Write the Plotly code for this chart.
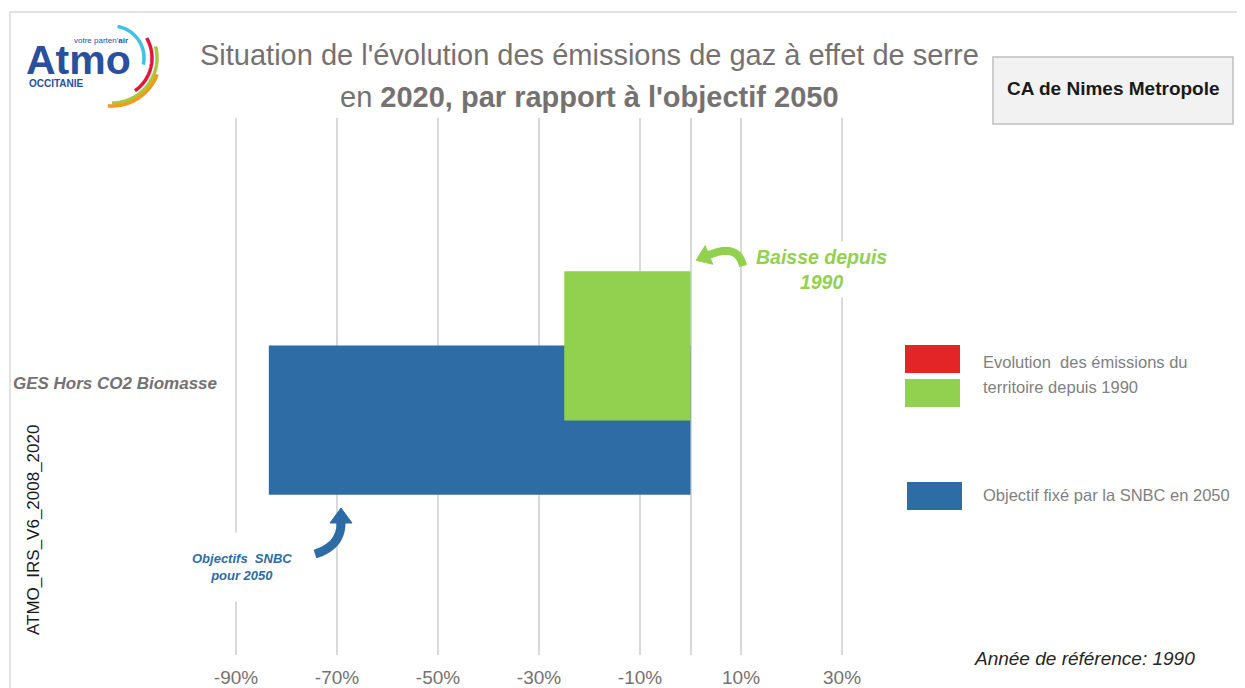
import math
import plotly.graph_objects as go

# données (part de l'évolution par rapport à 1990)
categories = ["GES Hors CO2 Biomasse"]
evolution_1990 = [-0.25]
objectif_snbc_2050 = [-0.835]
x_ticks = [-0.9, -0.7, -0.5, -0.3, -0.1, 0.1, 0.3]
x_tick_labels = ["-90%", "-70%", "-50%", "-30%", "-10%", "10%", "30%"]

# la page met la figure à 8 px du bord (marge du body)
OFF = 8
W, H = 1245 - OFF, 688 - OFF
L, R, T, B = 226, 855, 118, 655  # zone de tracé, en pixels écran

BLUE = "#2e6ca6"
GREEN = "#92d050"
RED = "#e42528"
GREY_TXT = "#767171"
SANS = "Liberation Sans, Arial"


def px(xp):
    return (xp - L) / (R - L)


def py(yp):
    return (B - yp) / (B - T)


def path_from(points):
    return "M " + " L ".join(f"{px(a):.5f},{py(b):.5f}" for a, b in points)


def arc_points(cx, cy, r, a0, a1, n=40):
    pts = []
    for i in range(n + 1):
        a = math.radians(a0 + (a1 - a0) * i / n)
        pts.append((cx + r * math.cos(a), cy - r * math.sin(a)))
    return pts


def curved_arrow(p0, c, p1, color, width, head_len, head_w):
    pts = []
    for i in range(31):
        t = i / 30
        xx = (1 - t) ** 2 * p0[0] + 2 * (1 - t) * t * c[0] + t ** 2 * p1[0]
        yy = (1 - t) ** 2 * p0[1] + 2 * (1 - t) * t * c[1] + t ** 2 * p1[1]
        pts.append((xx, yy))
    dx, dy = p1[0] - c[0], p1[1] - c[1]
    n = math.hypot(dx, dy)
    dx, dy = dx / n, dy / n
    tip = (p1[0] + dx * head_len, p1[1] + dy * head_len)
    b1 = (p1[0] - dy * head_w, p1[1] + dx * head_w)
    b2 = (p1[0] + dy * head_w, p1[1] - dx * head_w)
    shaft = dict(type="path", xref="paper", yref="paper", path=path_from(pts),
                 line=dict(color=color, width=width))
    head = dict(type="path", xref="paper", yref="paper",
                path=path_from([b1, tip, b2]) + " Z",
                fillcolor=color, line=dict(color=color, width=1))
    return [shaft, head]


def note(xp, yp, text, size, color, anchor="center", **kw):
    return dict(x=px(xp), y=py(yp), xref="paper", yref="paper", text=text,
                showarrow=False, xanchor=anchor, yanchor="middle",
                font=dict(family=SANS, size=size, color=color), **kw)


fig = go.Figure()
fig.add_trace(go.Bar(
    y=categories, x=objectif_snbc_2050, orientation="h",
    marker=dict(color=BLUE, line=dict(width=0)),
    width=0.278, offset=-0.208, name="Objectif fixé par la SNBC en 2050",
))
fig.add_trace(go.Bar(
    y=categories, x=evolution_1990, orientation="h",
    marker=dict(color=GREEN, line=dict(width=0)),
    width=0.278, offset=-0.07, name="Evolution des émissions du territoire depuis 1990",
))

shapes = []
# cadre général
shapes.append(dict(type="rect", xref="paper", yref="paper",
                   x0=px(10), y0=py(700), x1=px(1260), y1=py(12),
                   line=dict(color="#d9d9d9", width=1.5), layer="below"))
# encadré territoire
shapes.append(dict(type="rect", xref="paper", yref="paper",
                   x0=px(993), y0=py(124), x1=px(1233), y1=py(57),
                   fillcolor="#f2f2f2", line=dict(color="#bfbfbf", width=1.5)))
# légende
for (x0, y0, x1, y1), col in [((905, 345, 960, 373), RED),
                              ((905, 379, 960, 407), GREEN),
                              ((907, 482, 962, 510), BLUE)]:
    shapes.append(dict(type="rect", xref="paper", yref="paper",
                       x0=px(x0), y0=py(y1), x1=px(x1), y1=py(y0),
                       fillcolor=col, line=dict(width=0)))
# logo arcs
for r, a0, a1, col in [(32, 80, -12, "#3fc0e8"), (40, 30, -55, "#e3173e"),
                       (45, 15, -90, "#a8c83a"), (48, -20, -95, "#f39a1e")]:
    shapes.append(dict(type="path", xref="paper", yref="paper",
                       path=path_from(arc_points(112, 58, r, a0, a1)),
                       line=dict(color=col, width=3.5)))
shapes += curved_arrow((743, 266), (738, 243), (709, 255), GREEN, 8, 14, 10)
shapes += curved_arrow((315, 554), (341, 546), (341, 523), BLUE, 9, 15, 11)

annotations = [
    # commentaires sur fond blanc
    note(821, 269, "<b><i>Baisse depuis<br>1990</i></b>", 19.5, GREEN,
         bgcolor="white", borderpad=4, align="center"),
    note(242, 567, "<b><i>Objectifs  SNBC<br>pour 2050</i></b>", 13, BLUE,
         bgcolor="white", borderpad=18, align="center"),
    # titre
    note(589, 55, "Situation de l'évolution des émissions de gaz à effet de serre",
         29, GREY_TXT),
    note(589, 97, "en <b>2020, par rapport à l'objectif 2050</b>", 29, GREY_TXT),
    note(1113, 89, "<b>CA de Nimes Metropole</b>", 19, "#1a1a1a"),
    # légende texte
    note(981, 362, "Evolution  des émissions du", 16.5, "#7f7f7f", anchor="left"),
    note(981, 387, "territoire depuis 1990", 16.5, "#7f7f7f", anchor="left"),
    note(981, 495, "Objectif fixé par la SNBC en 2050", 16.5, "#7f7f7f", anchor="left"),
    note(33, 530, "ATMO_IRS_V6_2008_2020", 17, "#1a1a1a", textangle=-90),
    note(1084, 658, "<i>Année de référence: 1990</i>", 19, "#262626"),
    # logo texte
    note(78, 60, "<b>Atmo</b>", 41, "#2a4f9e"),
    note(101, 41, "votre parten'<b>air</b>", 8, "#2a4f9e"),
    note(27, 83, "<b>OCCITANIE</b>", 10, "#2a4f9e", anchor="left"),
]

fig.update_layout(
    width=W, height=H, autosize=False,
    margin=dict(l=L - OFF, r=W + OFF - R, t=T - OFF, b=H + OFF - B, pad=0),
    paper_bgcolor="white", plot_bgcolor="white",
    barmode="overlay", showlegend=False,
    shapes=shapes, annotations=annotations,
    xaxis=dict(range=[-0.9198, 0.3257], tickvals=x_ticks, ticktext=x_tick_labels,
               showgrid=True, gridcolor="#d9d9d9", gridwidth=1.5,
               zeroline=True, zerolinecolor="#d9d9d9", zerolinewidth=1.5,
               showline=False, ticks="", ticklabelstandoff=9, automargin=False,
               tickfont=dict(family=SANS, size=19, color=GREY_TXT)),
    yaxis=dict(range=[-0.5065, 0.4935], showgrid=False, zeroline=False,
               showline=False, ticks="", ticklabelstandoff=8, automargin=False,
               tickfont=dict(family=SANS, size=17, color=GREY_TXT,
                             weight="bold", style="italic")),
)

fig.write_html("out.html")
